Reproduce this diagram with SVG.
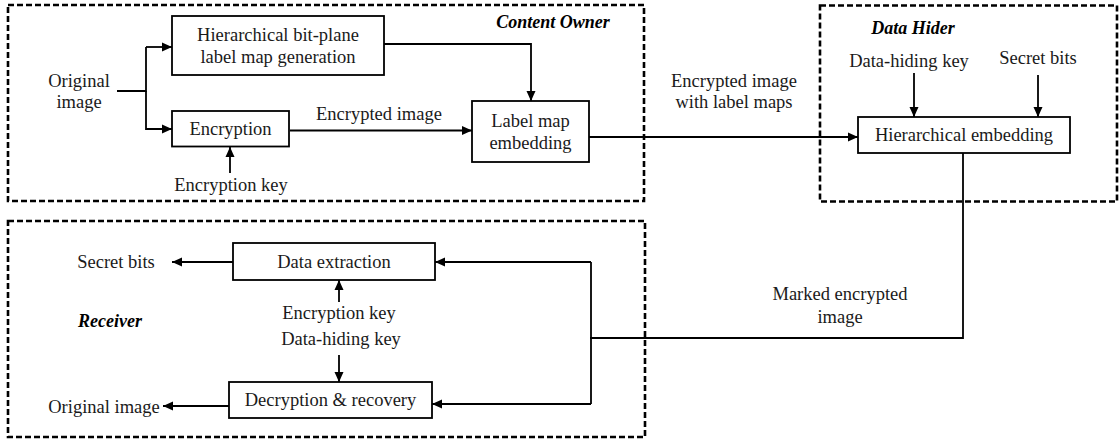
<svg xmlns="http://www.w3.org/2000/svg" width="1120" height="443" viewBox="0 0 1120 443">
<style>
  .bg { fill: #ffffff; }
  .zone { fill: none; stroke: #000; stroke-width: 2.6; stroke-dasharray: 6 3; }
  .box { fill: #fff; stroke: #000; stroke-width: 1.8; }
  .t { font-family: "Liberation Serif", "Times New Roman", serif; font-size: 18.5px; fill: #1a1a1a; text-anchor: middle; }
  .ttl { font-family: "Liberation Serif", "Times New Roman", serif; font-size: 18px; font-weight: bold; font-style: italic; fill: #000; text-anchor: middle; }
  .c { fill: none; stroke: #000; stroke-width: 1.8; }
  .a { marker-end: url(#arr); }
</style>
<defs>
  <marker id="arr" markerUnits="userSpaceOnUse" markerWidth="11" markerHeight="10" refX="10" refY="5" orient="auto">
    <path d="M0,0.5 L10,5 L0,9.5 z" fill="#000"/>
  </marker>
</defs>
<rect class="bg" x="0" y="0" width="1120" height="443"/>

<g id="zones">
  <g id="content-owner">
    <rect class="zone" x="8" y="5" width="636" height="196"/>
    <text class="ttl" x="553" y="28">Content Owner</text>
  </g>
  <g id="data-hider">
    <rect class="zone" x="820" y="5.5" width="297" height="196"/>
    <text class="ttl" x="913" y="34">Data Hider</text>
  </g>
  <g id="receiver">
    <rect class="zone" x="8" y="221" width="637" height="216"/>
    <text class="ttl" x="110" y="327">Receiver</text>
  </g>
</g>

<g id="connectors">
  <path class="c" d="M117,91 H146 V47"/>
  <path class="c a" d="M146,47 H172"/>
  <path class="c a" d="M146,91 V129 H172"/>
  <path class="c a" d="M384,44 H531 V101"/>
  <path class="c a" d="M290,130.5 H472"/>
  <path class="c a" d="M230,173 V147"/>
  <path class="c a" d="M589,137 H858"/>
  <path class="c a" d="M914,73 V117"/>
  <path class="c a" d="M1038,75 V117"/>
  <path class="c" d="M963,153 V338 H590"/>
  <path class="c" d="M591,262 V404"/>
  <path class="c a" d="M591,262 H435"/>
  <path class="c a" d="M591,404 H432"/>
  <path class="c a" d="M233,262 H172"/>
  <path class="c a" d="M229,406 H163"/>
  <path class="c a" d="M339,302 V280"/>
  <path class="c a" d="M339,355 V382"/>
</g>

<g id="original-image">
  <text class="t" x="79" y="87">Original</text>
  <text class="t" x="79" y="108">image</text>
</g>
<g id="label-map-generation">
  <rect class="box" x="172" y="16" width="212" height="59"/>
  <text class="t" x="278" y="41">Hierarchical bit-plane</text>
  <text class="t" x="278" y="63">label map generation</text>
</g>
<g id="encryption">
  <rect class="box" x="172" y="111" width="117" height="35.5"/>
  <text class="t" x="230.5" y="135">Encryption</text>
</g>
<g id="encryption-key-1">
  <text class="t" x="231" y="191">Encryption key</text>
</g>
<g id="label-encrypted-image">
  <text class="t" x="379" y="120">Encrypted image</text>
</g>
<g id="label-map-embedding">
  <rect class="box" x="472" y="101" width="117" height="61"/>
  <text class="t" x="530.5" y="127">Label map</text>
  <text class="t" x="530.5" y="149">embedding</text>
</g>
<g id="label-with-maps">
  <text class="t" x="734" y="87">Encrypted image</text>
  <text class="t" x="734" y="108">with label maps</text>
</g>
<g id="data-hiding-key-1">
  <text class="t" x="909" y="67">Data-hiding key</text>
</g>
<g id="secret-bits-1">
  <text class="t" x="1038" y="64">Secret bits</text>
</g>
<g id="hierarchical-embedding">
  <rect class="box" x="858" y="117" width="212" height="36"/>
  <text class="t" x="964" y="141">Hierarchical embedding</text>
</g>
<g id="label-marked">
  <text class="t" x="840" y="300">Marked encrypted</text>
  <text class="t" x="840" y="323">image</text>
</g>
<g id="data-extraction">
  <rect class="box" x="233" y="243" width="202" height="37"/>
  <text class="t" x="334" y="268">Data extraction</text>
</g>
<g id="secret-bits-2">
  <text class="t" x="116" y="268">Secret bits</text>
</g>
<g id="keys-2">
  <text class="t" x="339" y="319">Encryption key</text>
  <text class="t" x="341" y="345">Data-hiding key</text>
</g>
<g id="decryption-recovery">
  <rect class="box" x="229" y="382" width="203" height="36"/>
  <text class="t" x="330.5" y="406">Decryption &amp; recovery</text>
</g>
<g id="original-image-2">
  <text class="t" x="104" y="413">Original image</text>
</g>
</svg>
